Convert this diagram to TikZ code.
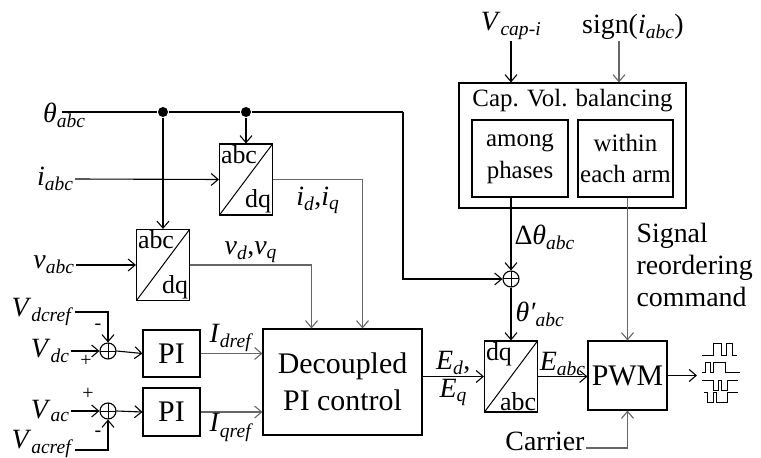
\documentclass[tikz,border=0pt]{standalone}
\usepackage{fontspec}
\setmainfont{Liberation Serif}
\usetikzlibrary{arrows.meta,positioning,calc}
\newcommand{\vsub}[2]{\textit{#1}\textsubscript{\textit{#2}}}

\begin{document}
\begin{tikzpicture}[
  x=1bp, y=-1bp,
  font=\fontsize{28}{32}\selectfont,
  line width=1.1bp,
  arrow/.style={-{Straight Barb[length=7bp,width=12bp]}},
  thin arrow/.style={arrow, draw=black!60},
  wire/.style={draw=black},
  blockbox/.style={draw, inner sep=0pt, align=center, font=\fontsize{30}{37}\selectfont},
  innerbox/.style={draw, inner sep=0pt, align=center, font=\fontsize{25}{32}\selectfont},
  tflbl/.style={inner sep=1.5bp, font=\fontsize{26}{28}\selectfont},
  tfbox/.style 2 args={draw, minimum width=53bp, minimum height=71bp, inner sep=0pt,
    path picture={\draw[line width=1bp] (path picture bounding box.south west) -- (path picture bounding box.north east);},
    label={[tflbl, anchor=north west]north west:#1},
    label={[tflbl, anchor=south east]south east:#2}},
  sumnode/.style={circle, draw, minimum size=16bp, inner sep=0pt,
    path picture={\draw[line width=1bp] (path picture bounding box.north) -- (path picture bounding box.south)
      (path picture bounding box.west) -- (path picture bounding box.east);}},
  dotnode/.style={circle, fill, minimum size=10bp, inner sep=0pt},
  pmsign/.style={inner sep=0pt, font=\fontsize{20}{20}\selectfont},
  lbl/.style={inner sep=1bp}
]
\useasboundingbox (0,0) rectangle (761,458);

% blocks
\node[tfbox={abc}{dq}] (tfi) at (246,179.5) {};
\node[tfbox={abc}{dq}] (tfv) at (163,265) {};
\node[blockbox, minimum width=159bp, minimum height=106bp] (dec) at (342.5,382) {Decoupled\\PI control};
\node[blockbox, minimum width=57bp, minimum height=47bp] (pid) at (171.5,353.5) {PI};
\node[blockbox, minimum width=57bp, minimum height=48bp] (piq) at (171.5,412) {PI};
\node[sumnode] (sumd) at (108,351) {};
\node[sumnode] (sumq) at (108,411) {};
\node[sumnode] (sumt) at (511,279) {};
\node[tfbox={dq}{abc}] (tfe) at (511,376.5) {};
\node[blockbox, minimum width=79bp, minimum height=69bp] (pwm) at (627.5,375.5) {PWM};

% capacitor voltage balancing
\node[draw, minimum width=227bp, minimum height=125bp] (cap) at (572.5,145.5) {};
\node[font=\fontsize{25}{30}\selectfont] (capT) at (572.5,101) {Cap. Vol. balancing};
\node[innerbox, minimum width=96bp, minimum height=77bp] (among) at (520,158.5) {among\\phases};
\node[innerbox, minimum width=95bp, minimum height=77bp] (within) at (625.5,158.5) {within\\each arm};

% inputs
\node[lbl, anchor=east] (thetaL) at (87,115) {\vsub{θ}{abc}};
\node[lbl, anchor=east] (iL) at (75,179) {\vsub{i}{abc}};
\node[lbl, anchor=east] (vL) at (76,265) {\vsub{v}{abc}};
\node[lbl, anchor=east] (VdcrefL) at (75,312) {\vsub{V}{dcref}};
\node[lbl, anchor=east] (VdcL) at (71,351) {\vsub{V}{dc}};
\node[lbl, anchor=east] (VacL) at (71,411) {\vsub{V}{ac}};
\node[lbl, anchor=east] (VacrefL) at (75,444) {\vsub{V}{acref}};
\node[lbl, anchor=south] (VcapL) at (511,41) {\vsub{V}{cap-i}};
\node[lbl, anchor=south] (signL) at (633,41) {sign(\vsub{i}{abc})};
\node[lbl, anchor=east] (carrierL) at (586,441) {Carrier};

\node[dotnode] (dotv) at (163,112) {};
\node[dotnode] (doti) at (246,112) {};
\coordinate (thS) at (62,112);
\coordinate (thC) at (403,112);
\coordinate (signS) at (619,41);
\coordinate (waveIn) at (697,375.5);

% signs
\node[pmsign] (mdc) at (98,327) {-};
\node[pmsign] (pdc) at (86,361) {+};
\node[pmsign] (pac) at (88,394) {+};
\node[pmsign] (mac) at (98,434) {-};

% connectors
\draw[wire] (thS) -- (dotv) -- (doti) -- (thC);
\draw[arrow] (thC) |- (sumt.west);
\draw[arrow] (dotv) -- (tfv.north);
\draw[arrow] (doti) -- (tfi.north);
\draw[arrow] (iL.east) -- (tfi.west);
\draw[arrow] (vL.east) -- (tfv.west);
\draw[thin arrow] (tfi.east) -| ([xshift=20bp]dec.north)
  node[lbl, pos=0.25, below=6bp] (idqL) {\vsub{i}{d},\vsub{i}{q}};
\draw[thin arrow] (tfv.east) -| ([xshift=-31bp]dec.north)
  node[lbl, pos=0.25, above=1bp] (vdqL) {\vsub{v}{d},\vsub{v}{q}};
\draw[arrow] (VdcrefL.east) -| (sumd.north);
\draw[arrow] (VdcL.east) -- (sumd.west);
\draw[arrow] (sumd.east) -- (pid.west);
\draw[thin arrow] (pid.east) -- (pid.east -| dec.west)
  node[lbl, midway, above=0bp] (IdL) {\vsub{I}{dref}};
\draw[arrow] (VacL.east) -- (sumq.west);
\draw[arrow] ([yshift=-6bp]VacrefL.east) -| (sumq.south);
\draw[arrow] (sumq.east) -- (piq.west);
\draw[thin arrow] (piq.east) -- (piq.east -| dec.west)
  node[lbl, midway, below=0bp] (IqL) {\vsub{I}{qref}};
\draw[arrow] (VcapL.south |- signS) -- (VcapL.south |- cap.north);
\draw[thin arrow] (signS) -- (signS |- cap.north);
\draw[arrow] (among.south -| sumt) -- (sumt.north)
  node[lbl, pos=0.55, right=2bp] (dthL) {Δ\vsub{θ}{abc}};
\draw[arrow] (sumt.south) -- (tfe.north)
  node[lbl, midway, right=3bp] (thpL) {\vsub{θ′}{abc}};
\draw[arrow] (dec.east |- tfe.west) -- (tfe.west)
  node[lbl, midway, above=0bp] (EdL) {\vsub{E}{d},}
  node[lbl, midway, below=1bp] (EqL) {\vsub{E}{q}};
\draw[arrow] (tfe.east) -- (tfe.east -| pwm.west)
  node[lbl, midway, above=-1bp] (EabcL) {\vsub{E}{abc}};
\draw[thin arrow] (within.south -| pwm) -- (pwm.north);
\node[lbl, anchor=north west, align=left, font=\fontsize{28}{32}\selectfont] (reordL) at (635,222)
  {Signal\\reordering\\command};
\draw[thin arrow] ([yshift=-7bp]carrierL.east) -| (pwm.south);
\draw[arrow] (pwm.east) -- (waveIn);

% pulse patterns
\draw[line width=1bp] (702,355) -| (713,344) -| (721,355) -| (726,344) -| (732,355) -- (737,355);
\draw[line width=1bp] (702,372) -| (705,362) -| (710,372) -| (713,362) -| (725,372) -- (740,372);
\draw[line width=1bp] (702,380) -| (713,390) -| (718,380) -| (721,390) -| (727,380) -- (738,380);
\draw[line width=1bp] (704,392) -| (707,402) -| (713,392) -| (716,402) -| (727,392) -- (738,392);
\end{tikzpicture}
\end{document}
